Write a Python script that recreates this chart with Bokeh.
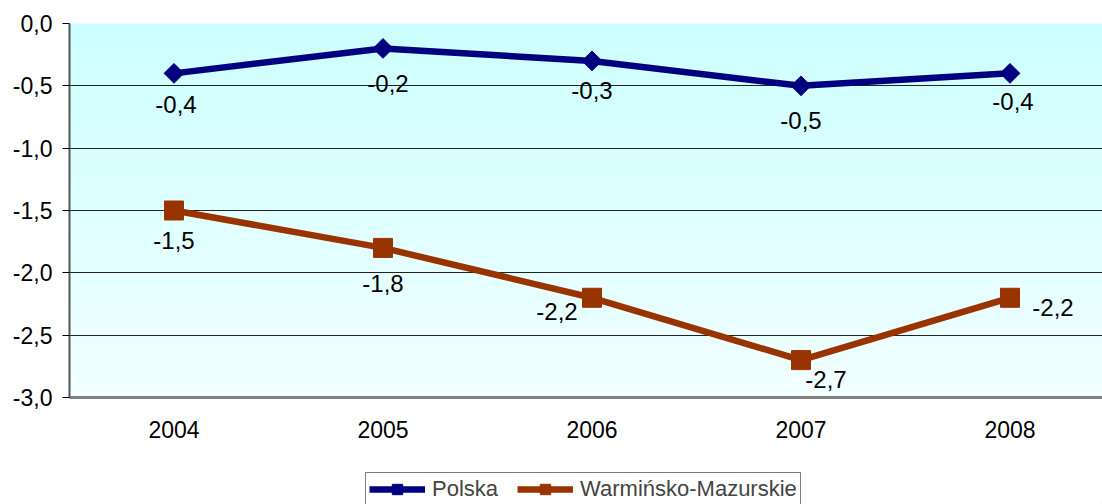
import numpy as np
from bokeh.plotting import figure
from bokeh.layouts import column
from bokeh.models import (FixedTicker, CustomJSTickFormatter, Legend, LegendItem,
                          ColumnDataSource, Range1d)
from bokeh.core.properties import value
from bokeh.embed import file_html
from bokeh.resources import INLINE

# ---------------- data ----------------
years = ["2004", "2005", "2006", "2007", "2008"]
polska = [-0.4, -0.2, -0.3, -0.5, -0.4]
warminsko = [-1.5, -1.8, -2.2, -2.7, -2.2]
series_names = ["Polska", "Warmińsko-Mazurskie"]
y_ticks = [-3.0, -2.5, -2.0, -1.5, -1.0, -0.5, 0.0]
y_min, y_max = -3.0, 0.0

# data-label offsets (screen px) – styling only
polska_dx = [2, 5, 0, 0, 3]
polska_dy = [31, 35, 30, 35, 28]
warm_dx = [0, 0, -35, 25, 43]
warm_dy = [30, 36, 14, 19, 10]

FONT = "Liberation Sans"
BLUE = "#000080"
BROWN = "#993300"

xs = list(range(len(years)))
x0, x1 = -0.5, 4.4426

p = figure(width=1102, height=460, output_backend="svg", toolbar_location=None,
           x_range=Range1d(x0, x1), y_range=Range1d(y_min, y_max),
           min_border_left=69, min_border_top=23, min_border_right=0,
           min_border_bottom=63)
p.outline_line_color = None
p.border_fill_color = "white"
p.background_fill_color = "#e0ffff"

# background vertical gradient
N = 256
t = np.linspace(0.0, 1.0, N)
img = np.zeros((N, 1), dtype=np.uint32)
view = img.view(dtype=np.uint8).reshape((N, 1, 4))
view[:, 0, 0] = np.round(0xF2 + (0xCC - 0xF2) * t).astype(np.uint8)
view[:, 0, 1] = 255
view[:, 0, 2] = 255
view[:, 0, 3] = 255
p.image_rgba(image=[img], x=x0, y=y_min, dw=x1 - x0, dh=y_max - y_min, level="image")

# grid
p.xgrid.visible = False
p.ygrid.ticker = FixedTicker(ticks=y_ticks)
p.ygrid.grid_line_color = "#222222"
p.ygrid.grid_line_width = 1

# y axis
p.yaxis.ticker = FixedTicker(ticks=y_ticks)
p.yaxis.formatter = CustomJSTickFormatter(code="return tick.toFixed(1).replace('.', ',');")
p.yaxis.axis_line_color = "#555555"
p.yaxis.axis_line_width = 2
p.yaxis.major_tick_line_color = "black"
p.yaxis.major_tick_out = 7
p.yaxis.major_tick_in = 0
p.yaxis.minor_tick_line_color = None
p.yaxis.major_label_standoff = 10
p.yaxis.major_label_text_font = FONT
p.yaxis.major_label_text_font_size = "23px"
p.yaxis.major_label_text_color = "black"

# x axis
p.xaxis.ticker = FixedTicker(ticks=xs)
p.xaxis.major_label_overrides = {i: y for i, y in zip(xs, years)}
p.xaxis.axis_line_color = "#808080"
p.xaxis.axis_line_width = 3
p.xaxis.major_tick_line_color = None
p.xaxis.major_tick_out = 0
p.xaxis.major_tick_in = 0
p.xaxis.minor_tick_line_color = None
p.xaxis.major_label_standoff = 23
p.xaxis.major_label_text_font = FONT
p.xaxis.major_label_text_font_size = "23px"
p.xaxis.major_label_text_color = "black"

# series
line_kw = dict(line_width=6.5)
p.line(xs, polska, line_color=BLUE, **line_kw)
p.scatter(xs, polska, marker="square", angle=np.pi / 4, size=14,
          fill_color=BLUE, line_color=BLUE)
p.line(xs, warminsko, line_color=BROWN, **line_kw)
p.scatter(xs, warminsko, marker="square", size=19,
          fill_color=BROWN, line_color=BROWN)

def fmt(v):
    return f"{v:.1f}".replace(".", ",")

for vals, dx, dy in ((polska, polska_dx, polska_dy), (warminsko, warm_dx, warm_dy)):
    src = ColumnDataSource(dict(x=xs, y=vals, t=[fmt(v) for v in vals], dx=dx, dy=dy))
    p.text(x="x", y="y", text="t", x_offset="dx", y_offset="dy", source=src,
           text_align="center", text_baseline="middle", text_color="black",
           text_font=value(FONT), text_font_size="24px")

# ---------------- legend strip ----------------
# the strip's ranges keep the (negative) series values out of view; only the legend shows
lg = figure(width=1102, height=44, output_backend="svg", toolbar_location=None,
            x_range=Range1d(0, 1), y_range=Range1d(0, 1),
            min_border_left=0, min_border_right=0, min_border_top=0, min_border_bottom=0)
lg.axis.visible = False
lg.grid.visible = False
lg.outline_line_color = None
lg.background_fill_color = "white"
lg.border_fill_color = "white"

ll1 = lg.line(xs, polska, line_color=BLUE, **line_kw)
lm1 = lg.scatter(xs, polska, marker="square", angle=np.pi / 4, size=14,
                 fill_color=BLUE, line_color=BLUE)
ll2 = lg.line(xs, warminsko, line_color=BROWN, **line_kw)
lm2 = lg.scatter(xs, warminsko, marker="square", size=19,
                 fill_color=BROWN, line_color=BROWN)

legend = Legend(items=[LegendItem(label=series_names[0], renderers=[ll1, lm1]),
                       LegendItem(label=series_names[1], renderers=[ll2, lm2])],
                orientation="horizontal", location=(296, -2),
                padding=3, spacing=19, margin=0,
                glyph_width=56, glyph_height=26, label_height=26, label_standoff=7,
                label_text_font=FONT, label_text_font_size="22px",
                border_line_color="black", border_line_width=1,
                background_fill_color="white", background_fill_alpha=1.0)
lg.add_layout(legend, "center")

layout = column(p, lg, spacing=0)
open("out.html", "w").write(file_html(layout, INLINE))
